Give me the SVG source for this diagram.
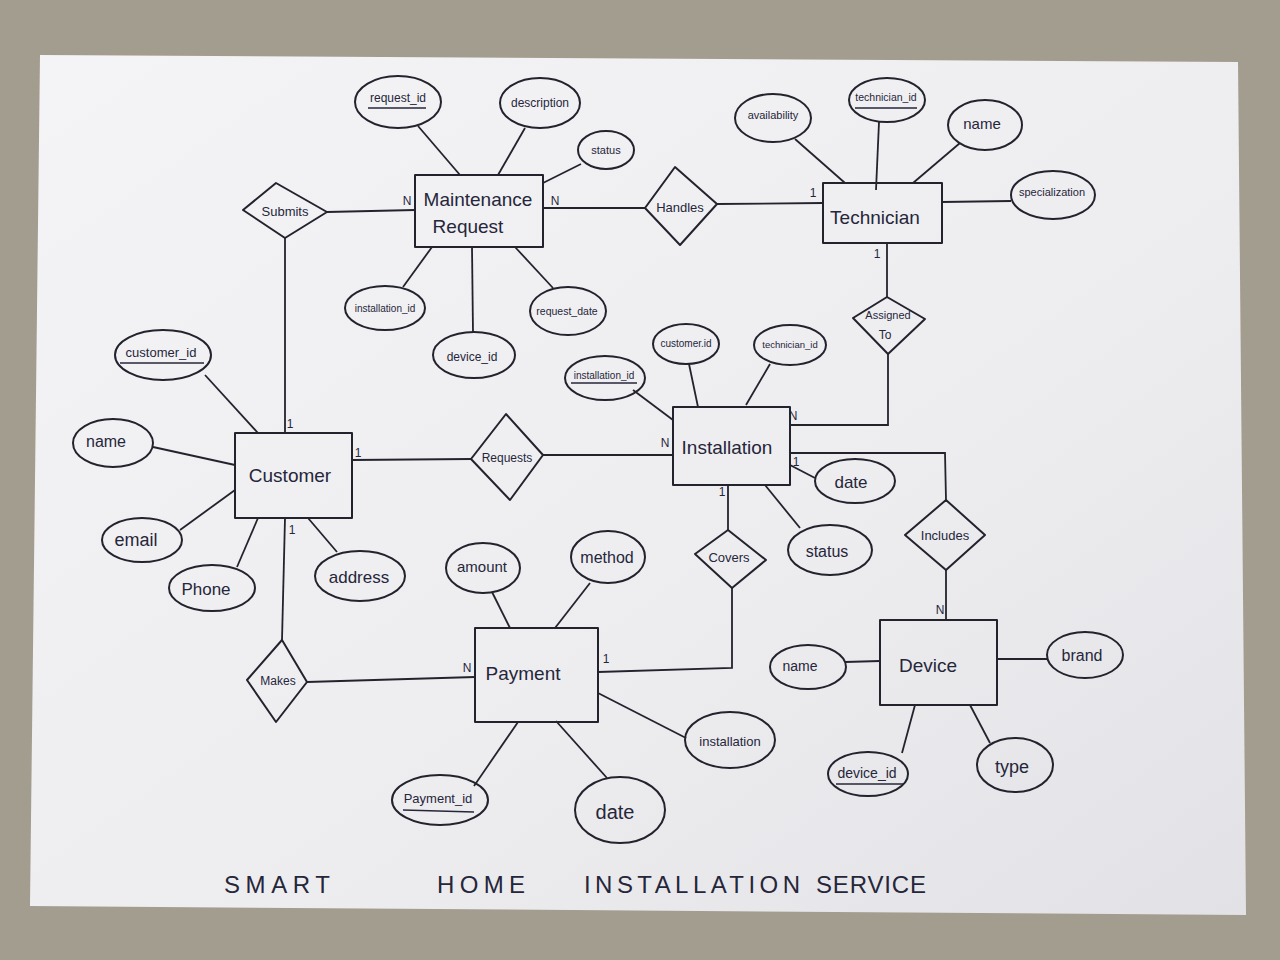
<svg xmlns="http://www.w3.org/2000/svg" width="1280" height="960" viewBox="0 0 1280 960">
<defs>
<linearGradient id="paper" x1="0" y1="0" x2="1" y2="1">
<stop offset="0" stop-color="#f4f4f6"/>
<stop offset="0.6" stop-color="#ededf0"/>
<stop offset="1" stop-color="#e2e2e6"/>
</linearGradient>
<style>
.sh{fill:none;stroke:#23232e;stroke-width:2;stroke-linejoin:round}
.ln{fill:none;stroke:#23232e;stroke-width:1.8}
.t{font-family:"Liberation Sans",Arial,sans-serif;fill:#26263a;text-anchor:middle;dominant-baseline:central}
.ent{font-size:19px}
.rel{font-size:13px}
.att{font-size:12px}
.card{font-family:"Liberation Sans",Arial,sans-serif;fill:#26263a;font-size:12px;text-anchor:middle}
.u{stroke:#26263a;stroke-width:1.3}
</style>
</defs>
<rect width="1280" height="960" fill="#a39d90"/>
<polygon points="40,55 1238,62 1246,915 30,906" fill="url(#paper)"/>

<g id="connectors">
<line class="ln" x1="327" y1="212" x2="415" y2="210"/>
<line class="ln" x1="285" y1="238" x2="285" y2="433"/>
<line class="ln" x1="543" y1="208" x2="645" y2="208"/>
<line class="ln" x1="717" y1="204" x2="823" y2="203"/>
<line class="ln" x1="887" y1="243" x2="887" y2="297"/>
<polyline class="ln" points="888,354 888,425 790,425"/>
<line class="ln" x1="352" y1="460" x2="471" y2="459"/>
<line class="ln" x1="543" y1="455" x2="673" y2="455"/>
<polyline class="ln" points="790,453 945,453 946,500"/>
<line class="ln" x1="946" y1="570" x2="946" y2="620"/>
<line class="ln" x1="728" y1="485" x2="728" y2="530"/>
<polyline class="ln" points="732,588 732,668 598,672"/>
<line class="ln" x1="285" y1="518" x2="282" y2="640"/>
<line class="ln" x1="307" y1="682" x2="475" y2="677"/>
<!-- attribute lines -->
<line class="ln" x1="418" y1="126" x2="460" y2="175"/>
<line class="ln" x1="525" y1="128" x2="498" y2="175"/>
<line class="ln" x1="581" y1="164" x2="543" y2="183"/>
<line class="ln" x1="403" y1="287" x2="432" y2="247"/>
<line class="ln" x1="473" y1="332" x2="472" y2="247"/>
<line class="ln" x1="553" y1="288" x2="515" y2="247"/>
<line class="ln" x1="795" y1="139" x2="845" y2="183"/>
<line class="ln" x1="879" y1="122" x2="876" y2="190"/>
<line class="ln" x1="960" y1="143" x2="913" y2="183"/>
<line class="ln" x1="1011" y1="201" x2="942" y2="202"/>
<line class="ln" x1="205" y1="375" x2="258" y2="433"/>
<line class="ln" x1="153" y1="447" x2="235" y2="465"/>
<line class="ln" x1="180" y1="530" x2="235" y2="490"/>
<line class="ln" x1="237" y1="567" x2="258" y2="518"/>
<line class="ln" x1="337" y1="552" x2="308" y2="518"/>
<line class="ln" x1="633" y1="390" x2="673" y2="420"/>
<line class="ln" x1="689" y1="364" x2="698" y2="407"/>
<line class="ln" x1="770" y1="364" x2="746" y2="405"/>
<line class="ln" x1="815" y1="478" x2="790" y2="465"/>
<line class="ln" x1="800" y1="528" x2="765" y2="485"/>
<line class="ln" x1="492" y1="592" x2="510" y2="628"/>
<line class="ln" x1="590" y1="583" x2="555" y2="628"/>
<line class="ln" x1="686" y1="738" x2="598" y2="693"/>
<line class="ln" x1="474" y1="786" x2="518" y2="722"/>
<line class="ln" x1="607" y1="778" x2="556" y2="721"/>
<line class="ln" x1="845" y1="662" x2="880" y2="661"/>
<line class="ln" x1="1048" y1="659" x2="997" y2="659"/>
<line class="ln" x1="902" y1="753" x2="915" y2="705"/>
<line class="ln" x1="990" y1="743" x2="970" y2="705"/>
</g>

<g id="cardinalities">
<text class="card" x="407" y="205">N</text>
<text class="card" x="555" y="205">N</text>
<text class="card" x="813" y="197">1</text>
<text class="card" x="877" y="258">1</text>
<text class="card" x="793" y="420">N</text>
<text class="card" x="290" y="428">1</text>
<text class="card" x="358" y="457">1</text>
<text class="card" x="665" y="447">N</text>
<text class="card" x="796" y="466">1</text>
<text class="card" x="722" y="496">1</text>
<text class="card" x="940" y="614">N</text>
<text class="card" x="606" y="663">1</text>
<text class="card" x="292" y="534">1</text>
<text class="card" x="467" y="672">N</text>
</g>

<g id="maintenance_request">
<rect class="sh" x="415" y="175" width="128" height="72"/>
<text class="t ent" x="478" y="199">Maintenance</text>
<text class="t ent" x="468" y="226">Request</text>
</g>
<g id="technician">
<rect class="sh" x="823" y="183" width="119" height="60"/>
<text class="t ent" x="875" y="217">Technician</text>
</g>
<g id="customer">
<rect class="sh" x="235" y="433" width="117" height="85"/>
<text class="t ent" x="290" y="475">Customer</text>
</g>
<g id="installation">
<rect class="sh" x="673" y="407" width="117" height="78"/>
<text class="t ent" x="727" y="447">Installation</text>
</g>
<g id="payment">
<rect class="sh" x="475" y="628" width="123" height="94"/>
<text class="t ent" x="523" y="673">Payment</text>
</g>
<g id="device">
<rect class="sh" x="880" y="620" width="117" height="85"/>
<text class="t ent" x="928" y="665">Device</text>
</g>

<g id="submits">
<polygon class="sh" points="243,210 276,183 327,212 285,238"/>
<text class="t rel" x="285" y="211">Submits</text>
</g>
<g id="handles">
<polygon class="sh" points="645,208 675,167 717,204 680,245"/>
<text class="t rel" x="680" y="207">Handles</text>
</g>
<g id="assigned_to">
<polygon class="sh" points="853,318 887,297 925,319 888,354"/>
<text class="t rel" x="888" y="315" style="font-size:11px">Assigned</text>
<text class="t rel" x="885" y="335" style="font-size:12px">To</text>
</g>
<g id="requests">
<polygon class="sh" points="471,459 506,414 543,455 510,500"/>
<text class="t rel" x="507" y="458" style="font-size:12px">Requests</text>
</g>
<g id="includes">
<polygon class="sh" points="905,535 946,500 985,535 946,570"/>
<text class="t rel" x="945" y="535">Includes</text>
</g>
<g id="makes">
<polygon class="sh" points="247,680 282,640 307,682 276,722"/>
<text class="t rel" x="278" y="681" style="font-size:12px">Makes</text>
</g>
<g id="covers">
<polygon class="sh" points="695,554 728,530 766,560 732,588"/>
<text class="t rel" x="729" y="557">Covers</text>
</g>

<g id="attr_request_id"><ellipse class="sh" cx="398" cy="102" rx="43" ry="26"/><text class="t att" x="398" y="98">request_id</text><line class="u" x1="368" y1="108" x2="426" y2="108"/></g>
<g id="attr_description"><ellipse class="sh" cx="540" cy="103" rx="40" ry="25"/><text class="t att" x="540" y="103">description</text></g>
<g id="attr_mr_status"><ellipse class="sh" cx="606" cy="150" rx="28" ry="19"/><text class="t att" x="606" y="150" style="font-size:11px">status</text></g>
<g id="attr_mr_installation_id"><ellipse class="sh" cx="385" cy="308" rx="40" ry="22"/><text class="t att" x="385" y="308" style="font-size:10px">installation_id</text></g>
<g id="attr_mr_device_id"><ellipse class="sh" cx="474" cy="355" rx="41" ry="23"/><text class="t att" x="472" y="357">device_id</text></g>
<g id="attr_request_date"><ellipse class="sh" cx="568" cy="311" rx="38" ry="24"/><text class="t att" x="567" y="311" style="font-size:10.5px">request_date</text></g>

<g id="attr_availability"><ellipse class="sh" cx="773" cy="118" rx="38" ry="24"/><text class="t att" x="773" y="115" style="font-size:11px">availability</text></g>
<g id="attr_technician_id"><ellipse class="sh" cx="887" cy="100" rx="38" ry="22"/><text class="t att" x="886" y="97" style="font-size:10.5px">technician_id</text><line class="u" x1="855" y1="108" x2="917" y2="108"/></g>
<g id="attr_tech_name"><ellipse class="sh" cx="985" cy="125" rx="37" ry="25"/><text class="t att" x="982" y="123" style="font-size:15px">name</text></g>
<g id="attr_specialization"><ellipse class="sh" cx="1053" cy="195" rx="42" ry="24"/><text class="t att" x="1052" y="192" style="font-size:11px">specialization</text></g>

<g id="attr_customer_id"><ellipse class="sh" cx="163" cy="355" rx="48" ry="25"/><text class="t att" x="161" y="352" style="font-size:13px">customer_id</text><line class="u" x1="120" y1="363" x2="204" y2="363"/></g>
<g id="attr_cust_name"><ellipse class="sh" cx="113" cy="443" rx="40" ry="24"/><text class="t att" x="106" y="441" style="font-size:16px">name</text></g>
<g id="attr_email"><ellipse class="sh" cx="142" cy="540" rx="40" ry="22"/><text class="t att" x="136" y="540" style="font-size:18px">email</text></g>
<g id="attr_phone"><ellipse class="sh" cx="212" cy="588" rx="43" ry="23"/><text class="t att" x="206" y="589" style="font-size:17px">Phone</text></g>
<g id="attr_address"><ellipse class="sh" cx="360" cy="576" rx="45" ry="25"/><text class="t att" x="359" y="577" style="font-size:17px">address</text></g>

<g id="attr_installation_id"><ellipse class="sh" cx="605" cy="378" rx="40" ry="22"/><text class="t att" x="604" y="375" style="font-size:10px">installation_id</text><line class="u" x1="571" y1="383" x2="637" y2="383"/></g>
<g id="attr_inst_customer_id"><ellipse class="sh" cx="686" cy="344" rx="33" ry="20"/><text class="t att" x="686" y="343" style="font-size:10px">customer.id</text></g>
<g id="attr_inst_technician_id"><ellipse class="sh" cx="790" cy="345" rx="36" ry="20"/><text class="t att" x="790" y="344" style="font-size:9.5px">technician_id</text></g>
<g id="attr_inst_date"><ellipse class="sh" cx="855" cy="481" rx="40" ry="22"/><text class="t att" x="851" y="482" style="font-size:17px">date</text></g>
<g id="attr_inst_status"><ellipse class="sh" cx="830" cy="550" rx="42" ry="25"/><text class="t att" x="827" y="551" style="font-size:16px">status</text></g>

<g id="attr_amount"><ellipse class="sh" cx="483" cy="568" rx="37" ry="25"/><text class="t att" x="482" y="566" style="font-size:15px">amount</text></g>
<g id="attr_method"><ellipse class="sh" cx="608" cy="557" rx="37" ry="26"/><text class="t att" x="607" y="557" style="font-size:16px">method</text></g>
<g id="attr_pay_installation"><ellipse class="sh" cx="730" cy="740" rx="45" ry="28"/><text class="t att" x="730" y="741" style="font-size:13px">installation</text></g>
<g id="attr_payment_id"><ellipse class="sh" cx="440" cy="800" rx="48" ry="25"/><text class="t att" x="438" y="798" style="font-size:13px">Payment_id</text><line class="u" x1="403" y1="810" x2="474" y2="812"/></g>
<g id="attr_pay_date"><ellipse class="sh" cx="620" cy="810" rx="45" ry="33"/><text class="t att" x="615" y="812" style="font-size:20px">date</text></g>

<g id="attr_dev_name"><ellipse class="sh" cx="808" cy="667" rx="38" ry="22"/><text class="t att" x="800" y="666" style="font-size:14px">name</text></g>
<g id="attr_brand"><ellipse class="sh" cx="1085" cy="655" rx="38" ry="23"/><text class="t att" x="1082" y="655" style="font-size:16px">brand</text></g>
<g id="attr_device_id"><ellipse class="sh" cx="868" cy="774" rx="40" ry="22"/><text class="t att" x="867" y="773" style="font-size:14px">device_id</text><line class="u" x1="836" y1="784" x2="904" y2="784"/></g>
<g id="attr_type"><ellipse class="sh" cx="1015" cy="765" rx="38" ry="27"/><text class="t att" x="1012" y="767" style="font-size:18px">type</text></g>

<g id="title" font-family="'Liberation Sans',Arial,sans-serif" font-size="24" fill="#26263a">
<text x="224" y="893" textLength="106" lengthAdjust="spacing">SMART</text>
<text x="437" y="893" textLength="88" lengthAdjust="spacing">HOME</text>
<text x="584" y="893" textLength="216" lengthAdjust="spacing">INSTALLATION</text>
<text x="816" y="893" textLength="110" lengthAdjust="spacing">SERVICE</text>
</g>
</svg>
